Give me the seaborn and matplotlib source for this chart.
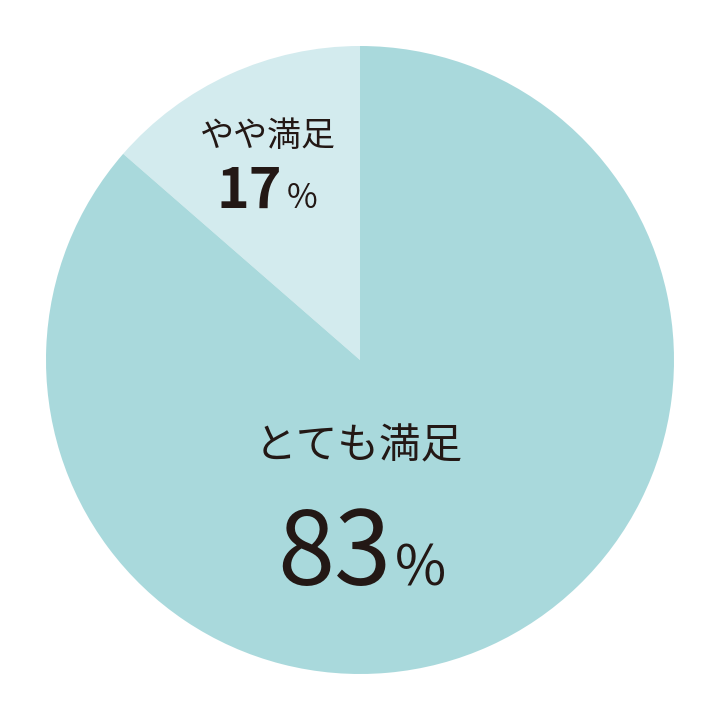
import numpy as np
import matplotlib
matplotlib.use("Agg")
import matplotlib.pyplot as plt
import seaborn as sns

# labels and printed percentages
labels = ["やや満足", "とても満足"]
pct_text = [17, 83]
# slice shares as drawn in the picture (degrees measured off the wedge edge)
shares = [13.6, 86.4]
colors = ["#d3ebee", "#a9d9dc"]

sns.set_theme(style="white")
plt.rcParams["font.family"] = ["Noto Sans CJK JP", "DejaVu Sans"]
ink = "#231815"

fig = plt.figure(figsize=(7.2, 7.2), dpi=100)
ax = fig.add_axes([0, 0, 1, 1])
ax.pie(shares, colors=colors, startangle=90, counterclock=True,
       radius=1.0, wedgeprops=dict(linewidth=0))
lim = 360 / 314
ax.set_xlim(-lim, lim)
ax.set_ylim(-lim, lim)
ax.set_aspect("equal")
ax.axis("off")


def px(x, y):
    return (x - 360) / 314, (360 - y) / 314


# small slice
ax.text(*px(268, 146), labels[0], ha="center", va="baseline",
        fontsize=24.5, color=ink)
ax.text(*px(282, 208), str(pct_text[0]), ha="right", va="baseline",
        fontsize=40, fontweight="bold", color=ink)
ax.text(*px(287, 208), "%", ha="left", va="baseline",
        fontsize=24, color=ink)

# big slice
ax.text(*px(359, 458), labels[1], ha="center", va="baseline",
        fontsize=30, color=ink)
ax.text(*px(391, 585), str(pct_text[1]), ha="right", va="baseline",
        fontsize=74, color=ink)
ax.text(*px(395, 585), "%", ha="left", va="baseline",
        fontsize=40, color=ink)

fig.savefig("out.png", dpi=100, facecolor="white")
